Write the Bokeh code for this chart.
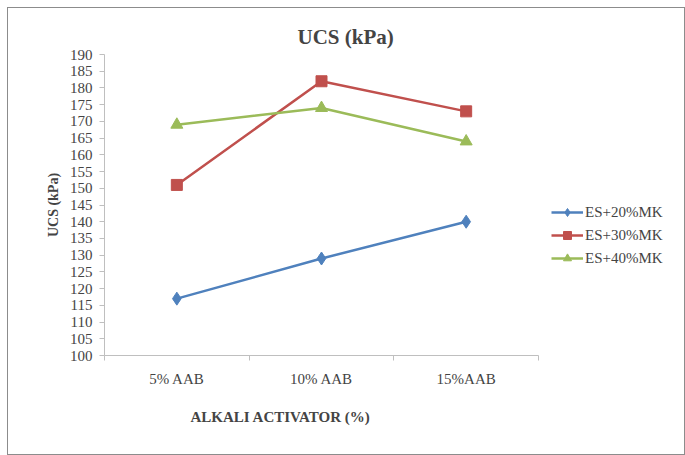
from bokeh.plotting import figure
from bokeh.models import FixedTicker, Legend, LegendItem, Range1d, Title
from bokeh.embed import file_html
from bokeh.resources import INLINE

categories = ["5% AAB", "10% AAB", "15%AAB"]
es20 = [117, 129, 140]
es30 = [151, 182, 173]
es40 = [169, 174, 164]
series_names = ["ES+20%MK", "ES+30%MK", "ES+40%MK"]
y_ticks = list(range(100, 191, 5))

FONT = "'Liberation Serif', 'Times New Roman', serif"
ncat = len(categories)
xs = [i + 0.5 for i in range(ncat)]

# frame spans 104..679 px; categories occupy 104..538 px
x_end = ncat * (679 - 104) / (538 - 104)

p = figure(width=676, height=446, output_backend="svg", toolbar_location=None,
           x_range=Range1d(0, x_end), y_range=Range1d(100, 190),
           min_border_left=96, min_border_right=5, min_border_top=46, min_border_bottom=99)
p.margin = (8, 0, 0, 8)
p.styles = {"outline": "1px solid #8c8c8c"}
p.outline_line_color = None
p.xgrid.visible = False
p.ygrid.visible = False

p.title.text = "UCS (kPa)"
p.title.text_font = FONT
p.title.text_font_size = "21px"
p.title.text_font_style = "bold"
p.title.align = "left"
p.title.offset = 193
p.title.standoff = 12

xa = p.xaxis[0]
xa.bounds = (0, ncat)
xa.ticker = FixedTicker(ticks=xs, minor_ticks=list(range(ncat + 1)))
xa.major_label_overrides = {x: c for x, c in zip(xs, categories)}
xa.major_tick_line_color = None
xa.major_tick_out = 0
xa.major_tick_in = 0
xa.minor_tick_out = 5
xa.minor_tick_in = 0
xa.minor_tick_line_color = "#bfbfbf"
xa.axis_line_color = "#bfbfbf"
xa.major_label_text_font = FONT
xa.major_label_text_font_size = "15px"
xa.major_label_standoff = 10

ya = p.yaxis[0]
ya.ticker = FixedTicker(ticks=y_ticks)
ya.axis_line_color = "#bfbfbf"
ya.major_tick_line_color = "#bfbfbf"
ya.major_tick_out = 5
ya.major_tick_in = 0
ya.minor_tick_line_color = None
ya.major_label_text_font = FONT
ya.major_label_text_font_size = "15px"
ya.major_label_standoff = 7
ya.axis_label = "UCS (kPa)"
ya.axis_label_text_font = FONT
ya.axis_label_text_font_size = "14px"
ya.axis_label_text_font_style = "bold"
ya.axis_label_standoff = 6

colors = ["#4F81BD", "#C0504D", "#9BBB59"]
r1 = p.line(xs, es20, color=colors[0], line_width=2.5)
m1 = p.scatter(xs, es20, marker="diamond", size=13, color=colors[0])
r2 = p.line(xs, es30, color=colors[1], line_width=2.5)
m2 = p.scatter(xs, es30, marker="square", size=11, color=colors[1])
r3 = p.line(xs, es40, color=colors[2], line_width=2.5)
m3 = p.scatter(xs, es40, marker="triangle", size=12, color=colors[2])

legend = Legend(items=[LegendItem(label=series_names[0], renderers=[r1, m1]),
                       LegendItem(label=series_names[1], renderers=[r2, m2]),
                       LegendItem(label=series_names[2], renderers=[r3, m3])],
                location=(447, 87), border_line_color=None, background_fill_alpha=0,
                label_text_font=FONT, label_text_font_size="15px",
                glyph_width=32, label_standoff=2, spacing=3, padding=0, margin=0)
p.add_layout(legend, "center")

xtitle = Title(text="ALKALI ACTIVATOR (%)", align="left", offset=86, standoff=35,
               text_font=FONT, text_font_size="15px", text_font_style="bold")
p.add_layout(xtitle, "below")

open("out.html", "w").write(file_html(p, INLINE))
